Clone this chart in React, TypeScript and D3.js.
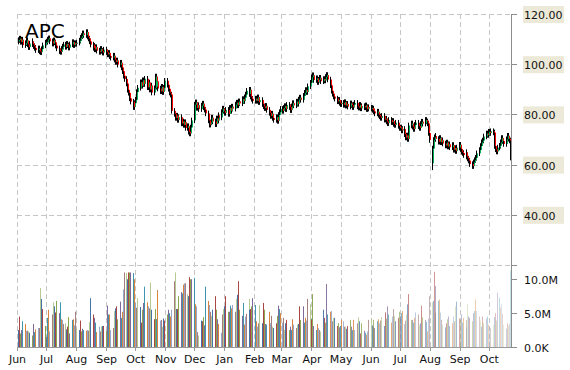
import { useEffect, useRef } from 'react';
import * as d3 from 'd3';

// month buckets, one row of daily values (weekdays) per month
const months = [
    "2014-06", "2014-07", "2014-08", "2014-09", "2014-10", "2014-11", "2014-12",
    "2015-01", "2015-02", "2015-03", "2015-04", "2015-05", "2015-06", "2015-07",
    "2015-08", "2015-09", "2015-10"
];

const closeByMonth = [
    [109.6, 110.2, 108.9, 109.8, 107.6, 108.4, 109.5, 107.9, 106.8, 108.2, 109.1, 108.0, 107.2, 106.5, 105.6, 106.3, 105.1, 104.8, 106.0, 107.5, 108.6],
    [108.9, 109.8, 110.3, 109.1, 108.2, 109.5, 108.7, 107.4, 106.3, 105.2, 104.9, 106.1, 107.0, 107.8, 106.9, 108.1, 107.5, 106.6, 107.9, 108.8, 107.6, 108.4, 108.1],
    [108.6, 109.4, 110.5, 111.2, 112.3, 111.6, 112.8, 111.0, 110.2, 109.1, 107.8, 106.5, 107.2, 105.9, 106.8, 105.4, 104.9, 106.1, 105.3, 104.6, 105.8],
    [104.8, 103.9, 104.5, 103.2, 102.6, 103.4, 101.8, 100.9, 101.5, 99.8, 100.6, 98.7, 97.2, 95.4, 94.1, 92.3, 89.8, 88.6, 86.4, 85.1, 82.9, 84.5],
    [85.8, 88.9, 90.6, 92.8, 91.4, 93.6, 92.1, 94.2, 90.8, 92.7, 89.9, 91.5, 88.7, 90.4, 95.1, 91.1, 93.2, 90.3, 89.2, 91.0, 88.9, 90.6, 93.4],
    [91.8, 90.2, 88.7, 87.9, 81.4, 80.2, 78.6, 79.5, 77.8, 78.9, 76.4, 77.2, 75.8, 76.9, 74.6, 75.3, 73.1, 72.4, 74.8, 77.6],
    [83.9, 84.8, 82.6, 83.7, 82.1, 83.5, 84.3, 82.8, 81.9, 80.4, 77.6, 75.9, 76.8, 78.7, 77.2, 76.1, 78.4, 77.5, 79.6, 78.8, 80.9, 82.3, 81.4],
    [80.6, 81.8, 80.2, 82.6, 81.4, 83.1, 82.3, 83.9, 84.7, 83.6, 85.2, 84.4, 86.1, 85.3, 86.8, 87.9, 89.4, 88.2, 89.8, 87.1, 86.2, 85.4],
    [86.3, 85.4, 86.8, 84.9, 85.7, 84.1, 83.2, 82.5, 83.4, 81.8, 80.6, 79.4, 80.3, 78.6, 77.8, 78.9, 77.4, 79.8, 80.9, 82.2],
    [81.4, 82.6, 83.3, 82.1, 83.8, 82.9, 81.7, 83.2, 84.5, 83.6, 85.1, 84.2, 85.9, 86.7, 85.8, 87.4, 88.6, 89.7, 88.9, 91.2, 92.6, 93.4],
    [94.8, 95.6, 93.7, 94.4, 92.9, 93.8, 94.6, 93.2, 94.1, 93.5, 94.9, 95.7, 93.9, 91.6, 89.4, 88.2, 87.1, 86.3, 85.2, 85.8, 84.6, 84.1],
    [84.6, 83.8, 84.9, 83.5, 84.2, 83.1, 84.4, 83.7, 82.9, 83.9, 84.6, 83.2, 82.7, 83.8, 82.4, 83.3, 82.8, 83.6, 82.1, 82.9, 82.3],
    [82.6, 81.8, 82.3, 81.2, 80.4, 81.1, 79.8, 79.2, 78.6, 79.4, 77.9, 78.3, 77.2, 76.5, 77.8, 76.9, 77.4, 76.2, 75.8, 76.7, 75.4, 74.6],
    [74.8, 73.6, 74.2, 72.1, 70.8, 71.6, 70.2, 75.6, 76.4, 75.1, 74.2, 75.8, 76.7, 75.3, 74.6, 76.2, 77.1, 76.3, 77.8, 77.2, 76.4, 72.6, 69.8],
    [66.4, 69.8, 70.9, 71.4, 70.2, 69.1, 70.6, 68.9, 69.7, 68.4, 67.6, 68.8, 67.2, 68.1, 66.9, 67.8, 65.9, 66.6, 65.4, 66.8, 67.9],
    [66.2, 65.1, 64.6, 63.8, 64.9, 63.2, 62.4, 61.6, 60.2, 59.4, 60.9, 61.8, 62.7, 64.5, 65.8, 67.4, 68.9, 69.6, 71.2, 72.4, 71.8, 73.1],
    [72.6, 73.3, 72.8, 67.4, 66.1, 65.2, 66.8, 67.5, 68.9, 70.6, 69.4, 68.2, 70.1, 71.5, 70.3, 69.6, 62.8]
];

// volume in millions
const volumeByMonth = [
    [2.5, 4.5, 2.0, 2.5, 3.8, 3.4, 2.4, 2.4, 2.3, 2.1, 1.2, 1.7, 3.4, 2.2, 2.6, 2.8, 2.8, 8.7, 7.1, 5.6, 3.1],
    [1.5, 4.3, 5.5, 2.3, 4.8, 6.6, 6.0, 5.1, 6.8, 5.0, 6.6, 4.1, 4.0, 3.4, 3.5, 2.6, 3.0, 4.4, 2.0, 4.0, 4.1, 3.2, 5.2],
    [2.8, 2.5, 3.9, 2.3, 2.7, 2.5, 2.4, 2.5, 2.4, 3.7, 7.2, 4.8, 2.8, 4.3, 3.6, 2.2, 3.0, 2.3, 3.0, 3.1, 3.1],
    [2.4, 6.1, 4.8, 4.8, 2.5, 2.8, 5.3, 5.7, 6.0, 4.1, 6.7, 4.3, 5.2, 8.5, 11.0, 10.9, 10.0, 11.0, 11.0, 11.0, 10.9, 10.0],
    [6.5, 5.8, 7.2, 5.9, 3.6, 5.5, 6.5, 8.9, 6.6, 6.0, 5.7, 9.5, 5.5, 4.1, 5.6, 4.1, 4.1, 8.4, 3.9, 4.0, 3.0, 4.2, 3.9],
    [4.8, 5.5, 5.0, 4.5, 5.5, 9.7, 11.0, 5.6, 5.6, 7.5, 8.1, 7.9, 9.2, 9.4, 9.4, 7.8, 7.5, 10.3, 10.0, 10.0],
    [10.2, 6.3, 6.0, 2.2, 1.7, 3.9, 3.8, 4.4, 3.2, 8.9, 6.8, 6.2, 5.2, 4.6, 5.5, 7.5, 5.5, 4.1, 2.6, 3.4, 2.1, 4.8, 5.6],
    [6.0, 7.5, 5.2, 5.2, 6.1, 5.7, 6.2, 5.2, 7.1, 7.7, 9.7, 5.5, 4.6, 6.5, 3.3, 4.5, 4.9, 7.1, 5.5, 5.6, 6.0, 7.2],
    [6.2, 3.8, 3.0, 3.5, 6.2, 3.5, 6.5, 5.5, 3.4, 3.3, 5.2, 3.5, 4.6, 3.0, 2.8, 3.5, 4.6, 6.1, 5.6, 5.0],
    [3.6, 4.3, 2.5, 3.5, 4.0, 2.5, 3.0, 2.5, 4.1, 3.3, 2.8, 3.3, 3.4, 6.0, 4.0, 6.0, 3.6, 4.3, 3.9, 7.1, 6.3, 4.1],
    [4.0, 7.8, 3.1, 2.5, 3.4, 2.8, 2.5, 2.3, 5.5, 4.3, 3.6, 9.3, 4.8, 5.2, 5.3, 3.8, 4.3, 4.3, 3.1, 3.5, 2.9, 3.1],
    [4.0, 3.8, 3.0, 3.0, 2.7, 3.1, 4.0, 3.0, 2.5, 4.0, 2.5, 3.5, 4.4, 3.8, 2.0, 3.5, 2.4, 2.1, 1.8, 2.3, 4.0],
    [4.3, 3.2, 3.0, 4.0, 2.8, 3.8, 4.1, 3.5, 3.9, 4.4, 3.1, 5.1, 4.2, 6.0, 4.8, 3.6, 4.5, 5.6, 4.6, 3.8, 4.3, 5.2],
    [4.6, 5.0, 5.3, 3.4, 3.9, 4.8, 6.3, 7.8, 4.0, 4.0, 3.6, 4.3, 5.1, 4.8, 3.2, 3.5, 6.1, 4.4, 4.0, 3.7, 2.3, 4.2, 7.5],
    [6.6, 6.8, 11.1, 5.0, 9.0, 6.8, 7.0, 5.1, 4.0, 3.3, 2.9, 3.5, 4.1, 4.5, 3.1, 3.5, 4.5, 3.8, 6.0, 6.7, 4.2],
    [4.0, 4.8, 3.6, 4.3, 2.9, 4.0, 6.3, 4.5, 4.3, 3.8, 5.0, 5.3, 7.0, 5.3, 4.5, 3.9, 3.0, 4.5, 3.5, 4.2, 4.5, 3.3],
    [3.0, 2.8, 3.3, 4.4, 5.0, 3.9, 8.0, 7.3, 5.8, 6.3, 4.9, 3.3, 2.7, 3.5, 3.1, 3.4, 11.3]
];

// a few days whose open / low can't be read as a normal candle
const candleOverrides = [
    { date: "2015-08-03", open: 60.5, low: 57.8 }
];

const priceGrid = [20, 40, 60, 80, 100, 120];
const priceTicks = [40, 60, 80, 100, 120];
const volumeTicks = [0, 5, 10];
const volumeTickLabels = ["0.0K", "5.0M", "10.0M"];
const palette = ['#4572A7', '#AA4643', '#89A54E', '#80699B', '#3D96AE', '#DB843D', '#92A8CD', '#A47D7C', '#B5CA92'];

export default function App() {
    let ref = useRef(null);

    useEffect(() => {
        const width = 570, height = 370;
        const left = 17, right = 512;
        const priceTop = 14, priceBottom = 265, volBottom = 347;
        const font = "DejaVu Sans, Verdana, sans-serif";

        const parseMonth = d3.timeParse("%Y-%m");
        const fmtDay = d3.timeFormat("%Y-%m-%d");

        const data: any[] = [];
        let prev = 109.0;
        months.forEach((m, mi) => {
            const start = parseMonth(m)!;
            const days = d3.timeDay.range(start, d3.timeMonth.offset(start, 1))
                .filter(d => d.getDay() !== 0 && d.getDay() !== 6);
            closeByMonth[mi].forEach((c, i) => {
                const date = days[i];
                const ov = candleOverrides.find(o => o.date === fmtDay(date));
                const open = ov ? ov.open : prev;
                const high = Math.max(open, c) + 1.1;
                const low = ov ? ov.low : Math.min(open, c) - 1.1;
                data.push({ date, open, close: c, high, low, volume: volumeByMonth[mi][i] });
                prev = c;
            });
        });

        const x = d3.scaleTime()
            .domain([new Date(2014, 5, 1), new Date(2015, 9, 25)])
            .range([left, right]);
        const yP = d3.scaleLinear().domain([20, 120]).range([priceBottom, priceTop]);
        const yV = d3.scaleLinear().domain([0, 12.1]).range([volBottom, priceBottom]);

        const svg = d3.select(ref.current)
            .append("svg")
            .attr("width", width)
            .attr("height", height)
            .style("position", "absolute")
            .style("left", "0px")
            .style("top", "0px")
            .style("background", "#fff");

        const monthTicks = d3.timeMonth.range(new Date(2014, 5, 1), new Date(2015, 9, 2));

        // grid
        svg.selectAll("hgrid").data(priceGrid).join("line")
            .attr("x1", left).attr("x2", right)
            .attr("y1", d => Math.round(yP(d)) + 0.5).attr("y2", d => Math.round(yP(d)) + 0.5)
            .attr("stroke", "#c6c6c6").attr("stroke-dasharray", "5,3");
        svg.selectAll("vgrid").data(monthTicks).join("line")
            .attr("x1", d => Math.round(x(d)) + 0.5).attr("x2", d => Math.round(x(d)) + 0.5)
            .attr("y1", priceTop).attr("y2", volBottom)
            .attr("stroke", "#c6c6c6").attr("stroke-dasharray", "5,3");

        // volume
        const fadeStart = +new Date(2015, 2, 20);
        const fadeEnd = +data[data.length - 1].date;
        svg.selectAll("vol").data(data).join("rect")
            .attr("x", d => Math.round(x(d.date)))
            .attr("width", 1)
            .attr("y", d => yV(d.volume))
            .attr("height", d => volBottom - yV(d.volume))
            .attr("fill", (d, i) => palette[i % palette.length])
            .attr("opacity", d => {
                const t = +d.date;
                if (t <= fadeStart) return 1;
                return 1 - 0.7 * (t - fadeStart) / (fadeEnd - fadeStart);
            });

        // candles: wicks first, coloured bodies on top
        svg.selectAll("wick").data(data).join("line")
            .attr("x1", d => Math.round(x(d.date)) + 0.5).attr("x2", d => Math.round(x(d.date)) + 0.5)
            .attr("y1", d => yP(d.high)).attr("y2", d => yP(d.low))
            .attr("stroke", "#000").attr("stroke-width", 1);
        svg.selectAll("body").data(data).join("rect")
            .attr("x", d => Math.round(x(d.date)) + 1)
            .attr("width", 1)
            .attr("y", d => yP(Math.max(d.open, d.close)))
            .attr("height", d => Math.max(1, Math.abs(yP(d.open) - yP(d.close))))
            .attr("fill", d => d.close >= d.open ? "#00b159" : "#ff0000");

        // bottom axis
        svg.append("line")
            .attr("x1", left).attr("x2", right).attr("y1", volBottom + 0.5).attr("y2", volBottom + 0.5)
            .attr("stroke", "#999");
        svg.selectAll("mtick").data(monthTicks).join("line")
            .attr("x1", d => Math.round(x(d)) + 0.5).attr("x2", d => Math.round(x(d)) + 0.5)
            .attr("y1", volBottom).attr("y2", volBottom + 4)
            .attr("stroke", "#999");
        svg.selectAll("mlabel").data(monthTicks).join("text")
            .attr("x", d => x(d) + 0.5)
            .attr("y", 363)
            .attr("text-anchor", "middle")
            .style("font-family", font).style("font-size", "11px")
            .attr("fill", "#111")
            .text(d => d3.timeFormat("%b")(d));

        // right axis
        svg.append("line")
            .attr("x1", right - 0.5).attr("x2", right - 0.5).attr("y1", priceTop).attr("y2", volBottom + 1)
            .attr("stroke", "#8c8c8c");
        svg.selectAll("ptick").data(priceGrid).join("line")
            .attr("x1", right).attr("x2", right + 5)
            .attr("y1", d => Math.round(yP(d)) + 0.5).attr("y2", d => Math.round(yP(d)) + 0.5)
            .attr("stroke", "#8c8c8c");
        svg.selectAll("vtick").data(volumeTicks).join("line")
            .attr("x1", right).attr("x2", right + 5)
            .attr("y1", d => Math.round(yV(d)) + 0.5).attr("y2", d => Math.round(yV(d)) + 0.5)
            .attr("stroke", "#8c8c8c");

        svg.selectAll("pbg").data(priceTicks).join("rect")
            .attr("x", 523).attr("width", 41)
            .attr("y", d => yP(d) - 8).attr("height", 17)
            .attr("fill", "#ECE9D8");
        svg.selectAll("plabel").data(priceTicks).join("text")
            .attr("x", 524)
            .attr("y", d => yP(d) + 5)
            .style("font-family", font).style("font-size", "11px")
            .attr("fill", "#111")
            .text(d => d.toFixed(2));
        svg.selectAll("vlabel").data(volumeTicks).join("text")
            .attr("x", 524)
            .attr("y", d => yV(d) + 4.5)
            .style("font-family", font).style("font-size", "11px")
            .attr("fill", "#111")
            .text((d, i) => volumeTickLabels[i]);

        // title
        svg.append("text")
            .attr("x", 25).attr("y", 38)
            .style("font-family", font).style("font-size", "20px")
            .attr("fill", "#000")
            .text("APC");

        return () => {
            d3.select(ref.current).selectAll('*').remove();
        }
    })

    return <div ref={ref} />
}
